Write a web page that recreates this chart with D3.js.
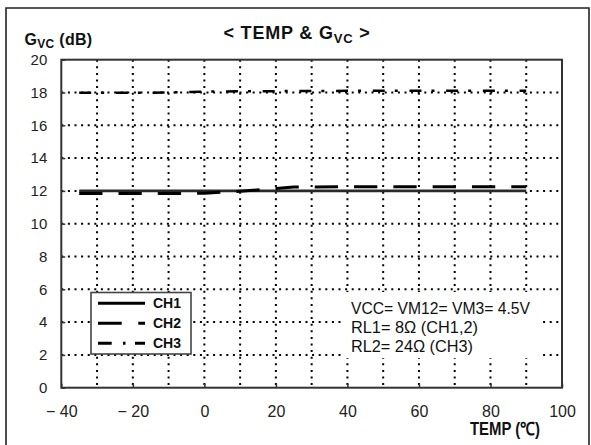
<!DOCTYPE html>
<html><head><meta charset="utf-8">
<script src="https://cdn.jsdelivr.net/npm/d3@7"></script>
<style>
html,body{margin:0;padding:0;background:#fff;}
svg{display:block;font-family:"Liberation Sans",Arial,sans-serif;}
</style></head>
<body><svg id="c" width="591" height="445"></svg>
<script>
const temps = [-35, -20, -10, 0, 10, 20, 25, 40, 60, 75, 90];
const ch1 = [12.0, 12.0, 12.0, 12.0, 12.0, 12.0, 12.0, 12.0, 12.0, 12.0, 12.0];
const ch2 = [11.84, 11.84, 11.84, 11.86, 11.98, 12.14, 12.24, 12.25, 12.25, 12.25, 12.25];
const ch3 = [17.98, 17.98, 18.0, 18.05, 18.07, 18.08, 18.09, 18.1, 18.1, 18.1, 18.1];
const seriesNames = ["CH1", "CH2", "CH3"];
const xTicks = [-40, -20, 0, 20, 40, 60, 80, 100];
const yTicks = [0, 2, 4, 6, 8, 10, 12, 14, 16, 18, 20];
const xGrid = [-30, -20, -10, 0, 10, 20, 30, 40, 50, 60, 70, 80, 90];
const notes = ["VCC= VM12= VM3= 4.5V", "RL1= 8\u03A9 (CH1,2)", "RL2= 24\u03A9 (CH3)"];

const svg = d3.select("#c");
const L = 61.3, R = 562, T = 59.7, B = 387.7;
const x = d3.scaleLinear().domain([-40, 100]).range([L, R]);
const y = d3.scaleLinear().domain([0, 20]).range([B, T]);

// outer frame
svg.append("path").attr("d", `M6,446 V8 H589 V446`).attr("fill", "none")
  .attr("stroke", "#222").attr("stroke-width", 1.6);

// grid
const grid = svg.append("g");
grid.selectAll("line.v").data(xGrid).join("line")
  .attr("x1", d => x(d)).attr("x2", d => x(d)).attr("y1", T).attr("y2", B)
  .attr("stroke", "#000").attr("stroke-width", 2).attr("stroke-dasharray", "2,4.6");
grid.selectAll("line.h").data(yTicks.filter(d => d > 0 && d < 20)).join("line")
  .attr("x1", L).attr("x2", R).attr("y1", d => y(d)).attr("y2", d => y(d))
  .attr("stroke", "#000").attr("stroke-width", 2).attr("stroke-dasharray", "2,4.6");

// annotation background box (hides gridlines)
svg.append("rect").attr("x", 341).attr("y", 292).attr("width", 198).attr("height", 66).attr("fill", "#fff");

// plot frame
svg.append("rect").attr("x", L).attr("y", T).attr("width", R - L).attr("height", B - T)
  .attr("fill", "none").attr("stroke", "#333").attr("stroke-width", 2);

// axes labels via d3 axes
const fmt = d => d < 0 ? "\u2212 " + Math.abs(d) : String(d);
const xa = svg.append("g").attr("transform", `translate(0,${B})`)
  .call(d3.axisBottom(x).tickValues(xTicks).tickSize(-4).tickPadding(0).tickFormat(fmt));
xa.select(".domain").remove();
xa.selectAll(".tick line").attr("stroke", "#333").attr("stroke-width", 1.5);
xa.selectAll(".tick text").attr("fill", "#222").attr("font-size", 16).attr("y", 29).attr("dy", 0)
  .attr("font-family", "Liberation Sans, Arial, sans-serif");

const ya = svg.append("g").attr("transform", `translate(${L},0)`)
  .call(d3.axisLeft(y).tickValues(yTicks).tickSize(-4).tickPadding(14).tickFormat(d => d));
ya.select(".domain").remove();
ya.selectAll(".tick line").attr("stroke", "#333").attr("stroke-width", 1.5);
ya.selectAll(".tick text").attr("fill", "#222").attr("font-size", 15)
  .attr("font-family", "Liberation Sans, Arial, sans-serif");

// series
const line = d3.line().x((d, i) => x(temps[i])).y(d => y(d));
const styles = [
  {data: ch1, dash: null, w: 2.6, c: "#2a2a2a"},
  {data: ch2, dash: "23.3,16", w: 3, c: "#000"},
  {data: ch3, dash: "12,10,3,11.7", w: 2.5, c: "#000"}
];
styles.forEach(s => {
  svg.append("path").datum(s.data).attr("d", line).attr("fill", "none")
    .attr("stroke", s.c).attr("stroke-width", s.w)
    .attr("stroke-dasharray", s.dash);
});

// legend
const lg = svg.append("g");
lg.append("rect").attr("x", 91).attr("y", 292.5).attr("width", 100).attr("height", 61.5)
  .attr("fill", "#fff").attr("stroke", "#444").attr("stroke-width", 1.6);
const legDash = [null, "23.7,16.6,8,10", "13.7,11.3,2.5,9.5,12"];
seriesNames.forEach((n, i) => {
  const yy = 303.3 + i * 20;
  lg.append("line").attr("x1", 98).attr("x2", 145).attr("y1", yy).attr("y2", yy)
    .attr("stroke", "#000").attr("stroke-width", 3).attr("stroke-dasharray", legDash[i]);
  lg.append("text").attr("x", 153).attr("y", yy).attr("dy", "0.36em")
    .attr("font-size", 14).attr("font-weight", "bold").attr("fill", "#111").text(n);
});

// notes
const noteW = [179, 127, 122];
notes.forEach((t, i) => {
  svg.append("text").attr("x", 351).attr("y", 314.3 + i * 19)
    .attr("font-size", 16).attr("fill", "#111")
    .attr("textLength", noteW[i]).attr("lengthAdjust", "spacingAndGlyphs").text(t);
});

// title
const title = svg.append("text").attr("x", 297).attr("y", 39).attr("text-anchor", "middle")
  .attr("font-size", 18).attr("font-weight", "bold").attr("fill", "#111").attr("letter-spacing", 0.8);
title.append("tspan").text("< TEMP & G");
title.append("tspan").attr("font-size", 13).attr("dy", 4).text("VC");
title.append("tspan").attr("dy", -4).text(" >");

// y label
const yl = svg.append("text").attr("x", 24.5).attr("y", 44.5)
  .attr("font-size", 16).attr("font-weight", "bold").attr("fill", "#111").attr("letter-spacing", 0.3);
yl.append("tspan").text("G");
yl.append("tspan").attr("font-size", 12).attr("dy", 3).text("VC");
yl.append("tspan").attr("dy", -3).text(" (dB)");

// x label
svg.append("text").attr("x", 470).attr("y", 435).attr("font-size", 18).attr("font-weight", "bold")
  .attr("fill", "#111").attr("textLength", 70).attr("lengthAdjust", "spacingAndGlyphs").text("TEMP (\u2103)");
</script></body></html>
